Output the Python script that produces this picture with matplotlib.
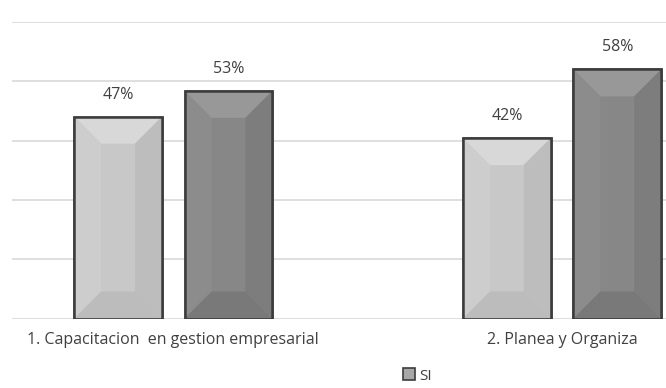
import matplotlib
matplotlib.use("Agg")
import matplotlib.pyplot as plt
from matplotlib.patches import Polygon, Patch
import numpy as np

# data
categories = ["1. Capacitacion  en gestion empresarial", "2. Planea y Organiza"]
serie_a = [0.47, 0.42]
serie_b = [0.53, 0.58]
labels_a = ["47%", "42%"]
labels_b = ["53%", "58%"]

plt.rcParams['font.family'] = ['Open Sans', 'DejaVu Sans']

fig = plt.figure(figsize=(6.66, 3.88), dpi=100)
ax = fig.add_axes([12 / 666, 0.179, 654 / 666, 0.764])

x = np.arange(len(categories))
width = 0.226
offset = 0.142

colors_a = dict(front='#c8c8c8', top='#d8d8d8', left='#cdcdcd', right='#bdbdbd', bottom='#bcbcbc')
colors_b = dict(front='#878787', top='#989898', left='#8c8c8c', right='#7d7d7d', bottom='#797979')

ax.set_xlim(-0.415, 1.2675)
ax.set_ylim(0, 0.69)

bars_a = ax.bar(x - offset, serie_a, width, color=colors_a['front'], edgecolor='#3c3c3c', linewidth=1.8, zorder=3)
bars_b = ax.bar(x + offset, serie_b, width, color=colors_b['front'], edgecolor='#3c3c3c', linewidth=1.8, zorder=3)

# bevel faces, sized in pixels
fig.canvas.draw()
px_x = ax.transData.transform((1, 0))[0] - ax.transData.transform((0, 0))[0]
px_y = ax.transData.transform((0, 1))[1] - ax.transData.transform((0, 0))[1]
bev = 27
bx = bev / px_x
by = bev / px_y

def bevel(bar, c):
    x0 = bar.get_x()
    x1 = x0 + bar.get_width()
    y0 = 0
    y1 = bar.get_height()
    ix0, ix1 = x0 + bx, x1 - bx
    iy0, iy1 = y0 + by, y1 - by
    faces = [
        ([(x0, y1), (x1, y1), (ix1, iy1), (ix0, iy1)], c['top']),
        ([(x0, y0), (x0, y1), (ix0, iy1), (ix0, iy0)], c['left']),
        ([(x1, y0), (x1, y1), (ix1, iy1), (ix1, iy0)], c['right']),
        ([(x0, y0), (x1, y0), (ix1, iy0), (ix0, iy0)], c['bottom']),
    ]
    for pts, col in faces:
        ax.add_patch(Polygon(pts, closed=True, facecolor=col, edgecolor='none', zorder=3.5))
    ax.add_patch(Polygon([(x0, y0), (x1, y0), (x1, y1), (x0, y1)], closed=True,
                         facecolor='none', edgecolor='#3c3c3c', linewidth=1.8, zorder=4))

for b in bars_a:
    bevel(b, colors_a)
for b in bars_b:
    bevel(b, colors_b)

for b, lab in zip(bars_a, labels_a):
    ax.annotate(lab, (b.get_x() + b.get_width() / 2, b.get_height()), xytext=(0, 10),
                textcoords='offset points', ha='center', va='bottom', fontsize=11.5, color='#404040')
for b, lab in zip(bars_b, labels_b):
    ax.annotate(lab, (b.get_x() + b.get_width() / 2, b.get_height()), xytext=(0, 10),
                textcoords='offset points', ha='center', va='bottom', fontsize=11.5, color='#404040')

ax.set_yticks(np.arange(0, 0.70, 0.138))
ax.set_yticklabels([])
ax.yaxis.grid(True, color='#d9d9d9', linewidth=1.2, zorder=0)
ax.set_axisbelow(True)
ax.tick_params(length=0)
ax.set_xticks(x)
ax.set_xticklabels(categories, fontsize=11.5, color='#404040')
ax.tick_params(axis='x', pad=10)
for s in ax.spines.values():
    s.set_visible(False)

handle = Patch(facecolor='#a8a8a8', edgecolor='#3c3c3c', linewidth=1.2)
fig.legend([handle], ['SI'], loc='center', bbox_to_anchor=(0.627, 0.031), frameon=False,
           fontsize=11, handlelength=0.8, handleheight=0.8, handletextpad=0.3, labelcolor='#404040')

fig.savefig("out.png", dpi=100)
